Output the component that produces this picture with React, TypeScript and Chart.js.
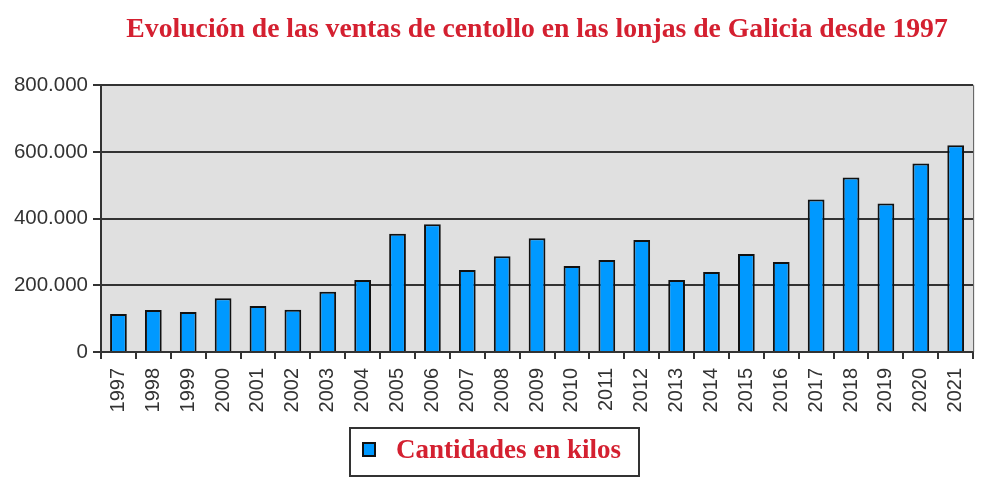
import React, { useEffect, useRef } from "react";
import { Chart, registerables } from "chart.js";

Chart.register(...registerables);

const titleText = "Evolución de las ventas de centollo en las lonjas de Galicia desde 1997";
const seriesLabel = "Cantidades en kilos";
const years = [
  "1997", "1998", "1999", "2000", "2001", "2002", "2003", "2004", "2005",
  "2006", "2007", "2008", "2009", "2010", "2011", "2012", "2013", "2014",
  "2015", "2016", "2017", "2018", "2019", "2020", "2021",
];
const kilos = [
  114000, 126000, 120000, 161000, 138000, 127000, 181000, 216000, 355000,
  383000, 246000, 287000, 341000, 258000, 276000, 336000, 216000, 240000,
  294000, 270000, 457000, 523000, 445000, 565000, 620000,
];
const yMin = 0;
const yMax = 800000;
const yStep = 200000;

const RED = "#d42030";
const BLUE = "#0099ff";
const DARK = "#333333";
const SERIF = "'Liberation Serif', 'Times New Roman', serif";
const SANS = "'Liberation Sans', Arial, sans-serif";

const fmt = (v: number) => String(v).replace(/\B(?=(\d{3})+(?!\d))/g, ".");

const bgPlugin = {
  id: "plotBg",
  beforeDraw(chart: any) {
    const { ctx, chartArea } = chart;
    ctx.save();
    ctx.fillStyle = "#e0e0e0";
    ctx.fillRect(chartArea.left, chartArea.top, chartArea.right - chartArea.left, chartArea.bottom - chartArea.top);
    ctx.restore();
  },
  afterDraw(chart: any) {
    const { ctx, chartArea } = chart;
    ctx.save();
    ctx.strokeStyle = "#555";
    ctx.lineWidth = 1;
    ctx.beginPath();
    ctx.moveTo(chartArea.right + 0.5, chartArea.top);
    ctx.lineTo(chartArea.right + 0.5, chartArea.bottom);
    ctx.stroke();
    // legend
    ctx.strokeStyle = DARK;
    ctx.lineWidth = 2;
    ctx.strokeRect(350, 428, 289, 48);
    ctx.fillStyle = BLUE;
    ctx.fillRect(363, 443, 12, 13);
    ctx.strokeStyle = "#111";
    ctx.lineWidth = 2;
    ctx.strokeRect(363, 443, 12, 13);
    ctx.fillStyle = RED;
    ctx.font = "bold 27px " + SERIF;
    ctx.textBaseline = "middle";
    ctx.textAlign = "left";
    ctx.fillText(chart.data.datasets[0].label, 396, 451);
    ctx.restore();
  },
};

export default function App() {
  const ref = useRef<HTMLCanvasElement | null>(null);
  useEffect(() => {
    if (!ref.current) return;
    const chart = new Chart(ref.current, {
      type: "bar",
      data: {
        labels: years,
        datasets: [
          {
            label: seriesLabel,
            data: kilos,
            backgroundColor: BLUE,
            borderColor: "#111",
            borderWidth: 2,
            barPercentage: 0.48,
            categoryPercentage: 1,
          },
        ],
      },
      options: {
        animation: false,
        responsive: false,
        maintainAspectRatio: false,
        layout: { padding: { left: 0, right: 11, top: 0, bottom: 60 } },
        plugins: {
          legend: { display: false },
          tooltip: { enabled: false },
          title: {
            display: true,
            text: titleText,
            fullSize: false,
            color: RED,
            font: { family: SERIF, size: 27.7, weight: "bold", lineHeight: 1.2 },
            padding: { top: 13, bottom: 39 },
          },
        },
        scales: {
          x: {
            border: { display: true, color: DARK, width: 2 },
            grid: {
              display: true,
              drawOnChartArea: false,
              drawTicks: true,
              tickLength: 7,
              color: DARK,
              lineWidth: 2,
              offset: true,
            },
            ticks: {
              color: DARK,
              minRotation: 90,
              maxRotation: 90,
              padding: 9,
              autoSkip: false,
              font: { family: SANS, size: 20 },
            },
            afterFit(scale: any) {
              scale.height = 72;
            },
          },
          y: {
            min: yMin,
            max: yMax,
            border: { display: true, color: DARK, width: 2 },
            grid: {
              color: DARK,
              lineWidth: 2,
              tickLength: 8,
              drawTicks: true,
            },
            ticks: {
              stepSize: yStep,
              color: DARK,
              padding: 5,
              font: { family: SANS, size: 20.5 },
              callback: (v: any) => fmt(Number(v)),
            },
            afterFit(scale: any) {
              scale.width = 101;
            },
          },
        },
      },
      plugins: [bgPlugin],
    });
    return () => chart.destroy();
  }, []);
  return (
    <div style={{ position: "absolute", left: 0, top: 0, width: 989, height: 484, background: "#fff" }}>
      <canvas ref={ref} width={989} height={484} />
    </div>
  );
}
